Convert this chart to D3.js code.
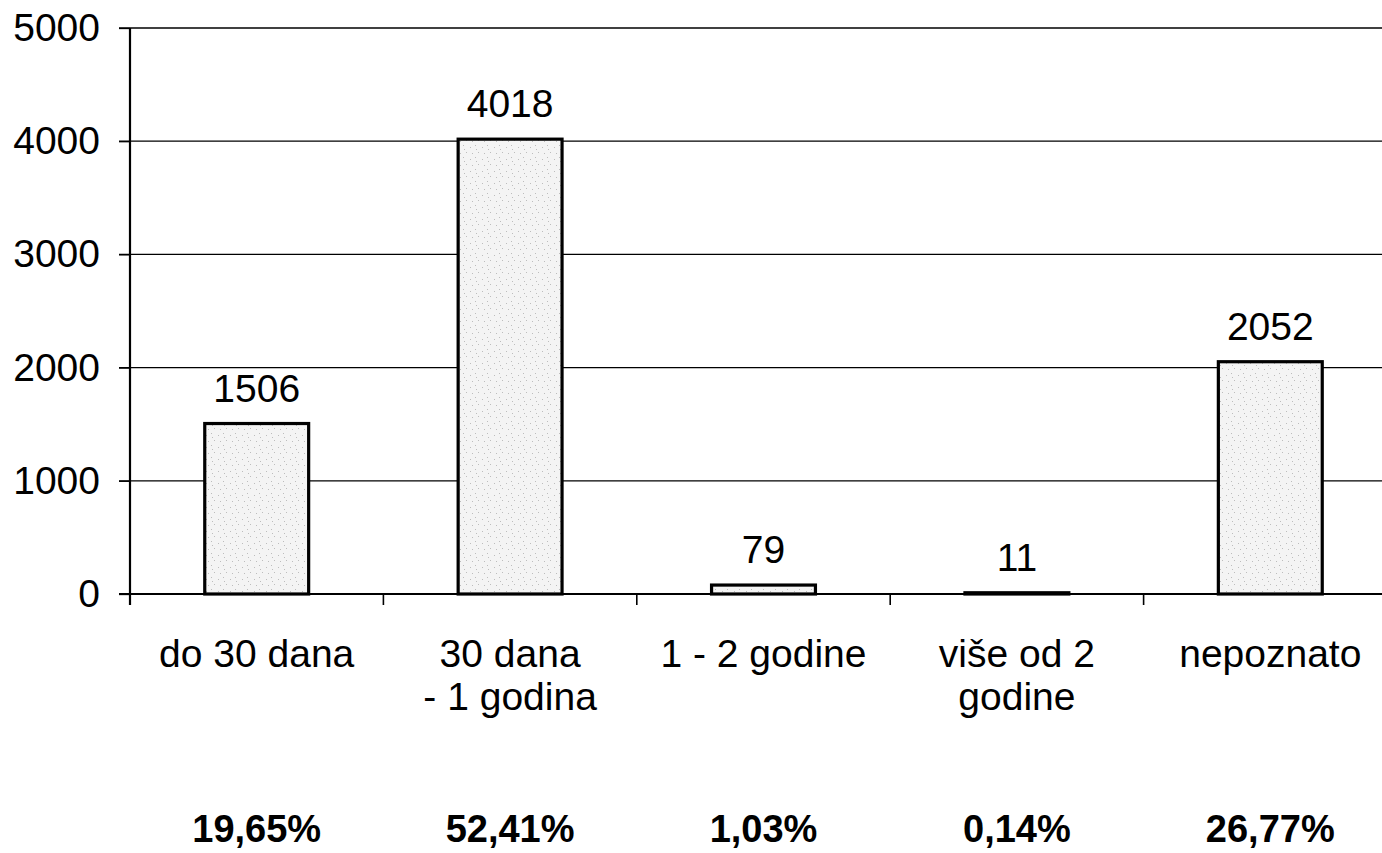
<!DOCTYPE html>
<html>
<head>
<meta charset="utf-8">
<script src="https://cdn.jsdelivr.net/npm/d3@7"></script>
<style>
  html, body { margin: 0; padding: 0; background: #fff; }
  svg { display: block; }
  text { font-family: "Liberation Sans", Arial, sans-serif; fill: #000; }
</style>
</head>
<body>
<svg id="chart"></svg>
<script>
// data
const categories = ["do 30 dana", "30 dana - 1 godina", "1 - 2 godine", "više od 2 godine", "nepoznato"];
const categoryLines = [["do 30 dana"], ["30 dana", "- 1 godina"], ["1 - 2 godine"], ["više od 2", "godine"], ["nepoznato"]];
const counts = [1506, 4018, 79, 11, 2052];
const shares = ["19,65%", "52,41%", "1,03%", "0,14%", "26,77%"];
const yTicks = [0, 1000, 2000, 3000, 4000, 5000];

const width = 1382, height = 853;

const svg = d3.select("#chart")
  .attr("width", width)
  .attr("height", height);

// stippled fill, like the scanned bars
const defs = svg.append("defs");
const pat = defs.append("pattern")
  .attr("id", "stipple")
  .attr("patternUnits", "userSpaceOnUse")
  .attr("width", 12)
  .attr("height", 12);
pat.append("rect").attr("width", 12).attr("height", 12).attr("fill", "#f4f4f4");
[[2, 3], [7, 1], [10, 8], [4, 9], [8, 5]].forEach(([cx, cy]) => {
  pat.append("rect").attr("x", cx).attr("y", cy).attr("width", 1).attr("height", 1).attr("fill", "#bdbdbd");
});

// plot runs a little past the right edge of the picture, as in the scan
const x = d3.scaleBand()
  .domain(categories)
  .range([130, 1397])
  .paddingInner(0.59)
  .paddingOuter(0.295);

const y = d3.scaleLinear()
  .domain([0, 5000])
  .range([594, 28]);

const step = x.step();

// horizontal grid
svg.append("g")
  .selectAll("line")
  .data(yTicks.filter(d => d > 0))
  .join("line")
  .attr("x1", 119)
  .attr("x2", width)
  .attr("y1", d => y(d))
  .attr("y2", d => y(d))
  .attr("stroke", "#000")
  .attr("stroke-width", 1.3);

// y axis
const yAxis = svg.append("g")
  .attr("transform", "translate(130,0)")
  .call(d3.axisLeft(y).tickValues(yTicks).tickSize(11).tickPadding(19).tickFormat(d3.format("d")));
yAxis.select(".domain").remove();
yAxis.selectAll(".tick line").attr("stroke", "#000").attr("stroke-width", 1.3);
yAxis.selectAll(".tick text")
  .attr("font-size", 39)
  .attr("font-family", "Liberation Sans, Arial, sans-serif")
  .attr("fill", "#000");

svg.append("line")
  .attr("x1", 130).attr("x2", 130)
  .attr("y1", y(5000)).attr("y2", y(0) + 11)
  .attr("stroke", "#000").attr("stroke-width", 2.2);

// bars
svg.append("g")
  .selectAll("rect")
  .data(counts)
  .join("rect")
  .attr("x", (d, i) => x(categories[i]))
  .attr("y", d => y(d))
  .attr("width", x.bandwidth())
  .attr("height", d => y(0) - y(d))
  .attr("fill", "url(#stipple)")
  .attr("stroke", "#000")
  .attr("stroke-width", 3.2);

// baseline and category ticks
svg.append("line")
  .attr("x1", 119).attr("x2", width)
  .attr("y1", y(0)).attr("y2", y(0))
  .attr("stroke", "#000").attr("stroke-width", 2.2);

svg.append("g")
  .selectAll("line")
  .data(d3.range(categories.length + 1))
  .join("line")
  .attr("x1", i => 130 + i * step)
  .attr("x2", i => 130 + i * step)
  .attr("y1", y(0))
  .attr("y2", y(0) + 11)
  .attr("stroke", "#000")
  .attr("stroke-width", 1.6);

// value labels
svg.append("g")
  .selectAll("text")
  .data(counts)
  .join("text")
  .attr("x", (d, i) => x(categories[i]) + x.bandwidth() / 2)
  .attr("y", d => y(d) - 22)
  .attr("text-anchor", "middle")
  .attr("font-size", 39)
  .text(d => d);

// category labels
const cat = svg.append("g")
  .selectAll("text")
  .data(categoryLines)
  .join("text")
  .attr("x", (d, i) => x(categories[i]) + x.bandwidth() / 2)
  .attr("y", 667)
  .attr("text-anchor", "middle")
  .attr("font-size", 39);
cat.selectAll("tspan")
  .data(d => d)
  .join("tspan")
  .attr("x", function() { return this.parentNode.getAttribute("x"); })
  .attr("dy", (d, i) => i === 0 ? 0 : 43)
  .text(d => d);

// share row
svg.append("g")
  .selectAll("text")
  .data(shares)
  .join("text")
  .attr("x", (d, i) => x(categories[i]) + x.bandwidth() / 2)
  .attr("y", 842)
  .attr("text-anchor", "middle")
  .attr("font-size", 38)
  .attr("font-weight", "bold")
  .text(d => d);
</script>
</body>
</html>
